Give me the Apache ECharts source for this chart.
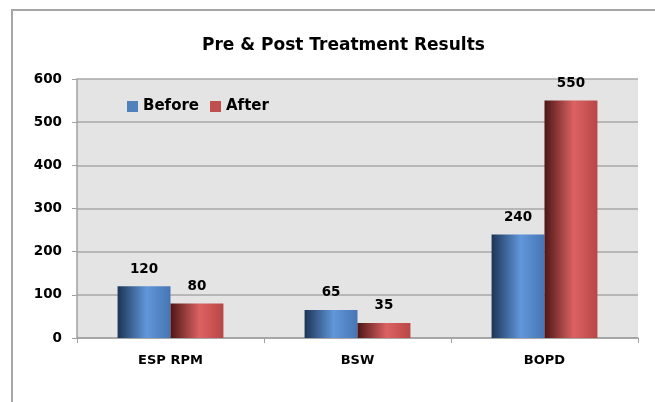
<!DOCTYPE html>
<html><head><meta charset="utf-8">
<script src="https://cdn.jsdelivr.net/npm/echarts@6/dist/echarts.min.js"></script>
<style>html,body{margin:0;padding:0;background:#fff}#c{width:655px;height:402px}</style>
</head><body><div id="c"></div>
<script>
const categories = ['ESP RPM', 'BSW', 'BOPD'];
const beforeValues = [120, 65, 240];
const afterValues = [80, 35, 550];
const yTicks = [0, 100, 200, 300, 400, 500, 600];
const FONT = '"DejaVu Sans", sans-serif';

function grad(dark, light, mid) {
  return new echarts.graphic.LinearGradient(0, 0, 1, 0, [
    {offset: 0, color: dark},
    {offset: 0.55, color: light},
    {offset: 1, color: mid}
  ]);
}
const chart = echarts.init(document.getElementById('c'));
chart.setOption({
  animation: false,
  backgroundColor: '#fff',
  graphic: [{
    type: 'rect', shape: {x: 12, y: 10, width: 720, height: 500},
    style: {fill: 'none', stroke: '#a6a6a6', lineWidth: 2}, z: -1
  }],
  title: {
    text: 'Pre & Post Treatment Results', left: 197, top: 32,
    textStyle: {fontFamily: FONT, fontWeight: 'bold', fontSize: 17, color: '#000'}
  },
  legend: {
    left: 122, top: 94, itemWidth: 11, itemHeight: 11, itemGap: 11,
    icon: 'rect',
    textStyle: {fontFamily: FONT, fontWeight: 'bold', fontSize: 15, color: '#000'},
    data: [{name: 'Before', itemStyle: {color: '#4f81bd'}}, {name: 'After', itemStyle: {color: '#c0504d'}}]
  },
  grid: {left: 77, right: 17, top: 79, bottom: 64, show: true, backgroundColor: '#e4e4e4', borderWidth: 0},
  xAxis: {
    type: 'category', data: categories,
    axisLine: {lineStyle: {color: '#a0a0a0', width: 1.5}},
    axisTick: {show: true, length: 5, lineStyle: {color: '#a0a0a0'}},
    axisLabel: {margin: 16, fontFamily: FONT, fontWeight: 'bold', fontSize: 13, color: '#000'}
  },
  yAxis: {
    type: 'value', min: yTicks[0], max: yTicks[yTicks.length-1], interval: 100,
    axisLine: {show: true, lineStyle: {color: '#a0a0a0', width: 1.5}},
    axisTick: {show: true, length: 5, lineStyle: {color: '#a0a0a0'}},
    splitLine: {lineStyle: {color: '#a8a8a8', width: 1.5}},
    axisLabel: {margin: 15, fontFamily: FONT, fontWeight: 'bold', fontSize: 13.5, color: '#000'}
  },
  series: [{
    name: 'Before', type: 'bar', data: beforeValues, barWidth: '28.3%', barGap: '0%',
    itemStyle: {color: grad('#1c3556', '#6197db', '#4675b3')},
    label: {show: true, position: 'top', distance: 10, fontFamily: FONT, fontWeight: 'bold', fontSize: 13.5, color: '#000'}
  }, {
    name: 'After', type: 'bar', data: afterValues, barWidth: '28.3%', barGap: '0%',
    itemStyle: {color: grad('#4e1616', '#dc6262', '#b94646')},
    label: {show: true, position: 'top', distance: 10, fontFamily: FONT, fontWeight: 'bold', fontSize: 13.5, color: '#000'}
  }]
});
</script></body></html>
